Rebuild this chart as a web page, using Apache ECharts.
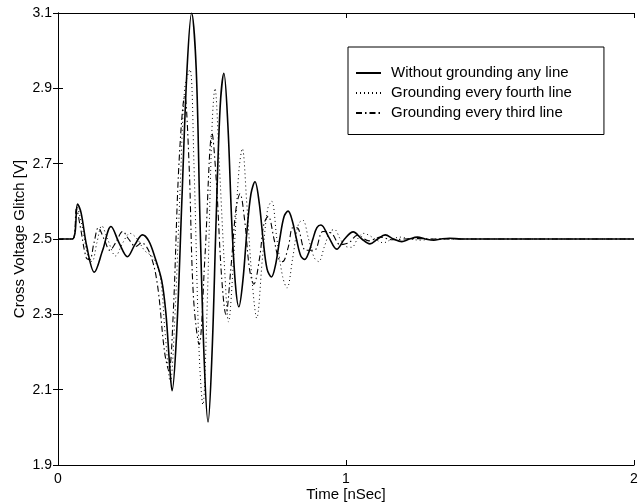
<!DOCTYPE html>
<html>
<head>
<meta charset="utf-8">
<script src="https://cdn.jsdelivr.net/npm/echarts@6/dist/echarts.min.js"></script>
<style>
  html, body { margin: 0; padding: 0; background: #fff; }
  #chart { width: 642px; height: 504px; }
</style>
</head>
<body>
<div id="chart"></div>
<script>
// Cross-talk glitch on a victim line, three grounding schemes (time in ns, voltage in V)
const seriesNames = [
  'Without grounding any line',
  'Grounding every fourth line',
  'Grounding every third line'
];

const xTicks = [0, 1, 2];
const yTicks = [1.9, 2.1, 2.3, 2.5, 2.7, 2.9, 3.1];

// No grounding
const solidT = [0, 0.05, 0.068, 0.08, 0.1, 0.126, 0.155, 0.184, 0.212, 0.241, 0.267, 0.293, 0.315, 0.337, 0.36, 0.375, 0.388, 0.396, 0.412, 0.43, 0.448, 0.464, 0.48, 0.493, 0.508, 0.521, 0.535, 0.549, 0.563, 0.576, 0.59, 0.603, 0.616, 0.628, 0.642, 0.656, 0.67, 0.684, 0.698, 0.712, 0.726, 0.741, 0.755, 0.77, 0.785, 0.799, 0.813, 0.828, 0.843, 0.857, 0.871, 0.885, 0.899, 0.913, 0.94, 0.968, 0.995, 1.025, 1.055, 1.083, 1.11, 1.136, 1.165, 1.194, 1.22, 1.248, 1.275, 1.305, 1.33, 1.36, 1.4, 2.0];
const solidV = [2.5, 2.5, 2.593, 2.57, 2.48, 2.412, 2.47, 2.533, 2.49, 2.453, 2.485, 2.511, 2.495, 2.45, 2.39, 2.3, 2.16, 2.097, 2.25, 2.6, 2.95, 3.1, 2.95, 2.55, 2.17, 2.014, 2.2, 2.55, 2.85, 2.94, 2.8, 2.55, 2.38, 2.32, 2.39, 2.52, 2.62, 2.652, 2.6, 2.5, 2.42, 2.399, 2.43, 2.5, 2.56, 2.574, 2.55, 2.5, 2.455, 2.446, 2.465, 2.5, 2.53, 2.537, 2.505, 2.473, 2.5, 2.519, 2.5, 2.487, 2.5, 2.511, 2.5, 2.493, 2.5, 2.505, 2.5, 2.497, 2.5, 2.502, 2.5, 2.5];

// Every fourth line grounded
const fourthT = [0, 0.05, 0.066, 0.082, 0.105, 0.118, 0.135, 0.152, 0.172, 0.2, 0.225, 0.25, 0.275, 0.3, 0.33, 0.355, 0.372, 0.39, 0.405, 0.425, 0.44, 0.458, 0.472, 0.49, 0.503, 0.517, 0.535, 0.545, 0.56, 0.58, 0.592, 0.61, 0.628, 0.64, 0.655, 0.675, 0.69, 0.71, 0.728, 0.742, 0.76, 0.78, 0.795, 0.815, 0.835, 0.85, 0.87, 0.89, 0.905, 0.925, 0.945, 0.96, 0.98, 1.0, 1.02, 1.04, 1.06, 1.08, 1.1, 1.13, 1.16, 1.19, 1.22, 1.26, 1.3, 2.0];
const fourthV = [2.5, 2.5, 2.585, 2.54, 2.45, 2.44, 2.49, 2.535, 2.5, 2.455, 2.49, 2.515, 2.5, 2.47, 2.45, 2.4, 2.25, 2.12, 2.28, 2.65, 2.9, 2.95, 2.7, 2.2, 2.06, 2.3, 2.8, 2.9, 2.7, 2.4, 2.28, 2.45, 2.68, 2.74, 2.6, 2.38, 2.29, 2.45, 2.58, 2.6, 2.5, 2.4, 2.37, 2.45, 2.54, 2.55, 2.5, 2.45, 2.44, 2.48, 2.52, 2.525, 2.5, 2.48, 2.478, 2.5, 2.515, 2.51, 2.5, 2.49, 2.5, 2.505, 2.5, 2.497, 2.5, 2.5];

// Every third line grounded
const thirdT = [0, 0.05, 0.064, 0.078, 0.098, 0.11, 0.125, 0.14, 0.16, 0.18, 0.2, 0.225, 0.245, 0.27, 0.29, 0.32, 0.345, 0.37, 0.385, 0.4, 0.42, 0.44, 0.455, 0.47, 0.49, 0.51, 0.535, 0.55, 0.568, 0.583, 0.6, 0.618, 0.632, 0.648, 0.665, 0.68, 0.7, 0.715, 0.73, 0.75, 0.765, 0.78, 0.8, 0.815, 0.83, 0.86, 0.89, 0.92, 0.95, 0.98, 1.01, 1.04, 1.08, 1.12, 1.16, 1.2, 1.25, 1.3, 2.0];
const thirdV = [2.5, 2.5, 2.58, 2.53, 2.45, 2.445, 2.49, 2.53, 2.5, 2.47, 2.49, 2.52, 2.5, 2.48, 2.49, 2.46, 2.38, 2.2, 2.15, 2.3, 2.7, 2.88, 2.7, 2.35, 2.22, 2.45, 2.78, 2.65, 2.4, 2.3, 2.42, 2.58, 2.62, 2.55, 2.42, 2.38, 2.45, 2.54, 2.56, 2.5, 2.45, 2.44, 2.48, 2.53, 2.53, 2.47, 2.47, 2.52, 2.515, 2.485, 2.49, 2.51, 2.495, 2.505, 2.498, 2.5, 2.501, 2.5, 2.5];

const pairs = (t, v) => t.map((x, i) => [x, v[i]]);

const FONT = 'Liberation Sans, Arial, Helvetica, sans-serif';
const axisLine = { show: true, lineStyle: { color: '#000', width: 1 } };
const ticks = { show: true, inside: true, length: 5, lineStyle: { color: '#000' } };

const chart = echarts.init(document.getElementById('chart'), null, { renderer: 'canvas' });

chart.setOption({
  animation: false,
  backgroundColor: '#fff',
  grid: { left: 58, right: 8, top: 13, bottom: 39, containLabel: false, outerBoundsMode: 'none' },
  legend: {
    orient: 'vertical',
    left: 348,
    top: 47,
    data: seriesNames,
    itemWidth: 25,
    itemHeight: 16,
    itemGap: 5,
    padding: [18.5, 32, 14, 7],
    borderColor: '#000',
    borderWidth: 1,
    backgroundColor: '#fff',
    itemStyle: { opacity: 0 },
    textStyle: { color: '#000', fontSize: 15, fontFamily: FONT, padding: [0, 0, 0, 5] },
    selectedMode: false
  },
  xAxis: [{
    type: 'value',
    min: xTicks[0],
    max: xTicks[xTicks.length - 1],
    interval: 1,
    name: 'Time [nSec]',
    nameLocation: 'middle',
    nameGap: 22,
    nameMoveOverlap: false,
    nameTextStyle: { color: '#000', fontSize: 15, fontFamily: FONT },
    axisLine: axisLine,
    axisTick: ticks,
    axisLabel: { color: '#000', fontSize: 14, fontFamily: FONT, margin: 7 },
    splitLine: { show: false }
  }, {
    type: 'value',
    position: 'top',
    min: xTicks[0],
    max: xTicks[xTicks.length - 1],
    interval: 1,
    axisLine: axisLine,
    axisTick: ticks,
    axisLabel: { show: false },
    splitLine: { show: false }
  }],
  yAxis: [{
    type: 'value',
    min: yTicks[0],
    max: yTicks[yTicks.length - 1],
    interval: 0.2,
    name: 'Cross Voltage Glitch [V]',
    nameLocation: 'middle',
    nameGap: 31,
    nameMoveOverlap: false,
    nameTextStyle: { color: '#000', fontSize: 15, fontFamily: FONT },
    axisLine: axisLine,
    axisTick: ticks,
    axisLabel: {
      color: '#000', fontSize: 14, fontFamily: FONT, margin: 6,
      formatter: v => v.toFixed(1)
    },
    splitLine: { show: false }
  }, {
    type: 'value',
    position: 'right',
    min: yTicks[0],
    max: yTicks[yTicks.length - 1],
    interval: 0.2,
    axisLine: axisLine,
    axisTick: ticks,
    axisLabel: { show: false },
    splitLine: { show: false }
  }],
  series: [
    {
      name: seriesNames[0], type: 'line', data: pairs(solidT, solidV),
      smooth: 0.35, symbol: 'none', clip: true,
      lineStyle: { color: '#000', width: 1.6, type: 'solid' },
      itemStyle: { color: '#000' }, z: 5
    },
    {
      name: seriesNames[1], type: 'line', data: pairs(fourthT, fourthV),
      smooth: 0.35, symbol: 'none', clip: true,
      lineStyle: { color: '#000', width: 1, type: [1, 3] },
      itemStyle: { color: '#000' }, z: 3
    },
    {
      name: seriesNames[2], type: 'line', data: pairs(thirdT, thirdV),
      smooth: 0.35, symbol: 'none', clip: true,
      lineStyle: { color: '#000', width: 1.1, type: [6, 3, 1.5, 3] },
      itemStyle: { color: '#000' }, z: 4
    }
  ]
});
</script>
</body>
</html>
